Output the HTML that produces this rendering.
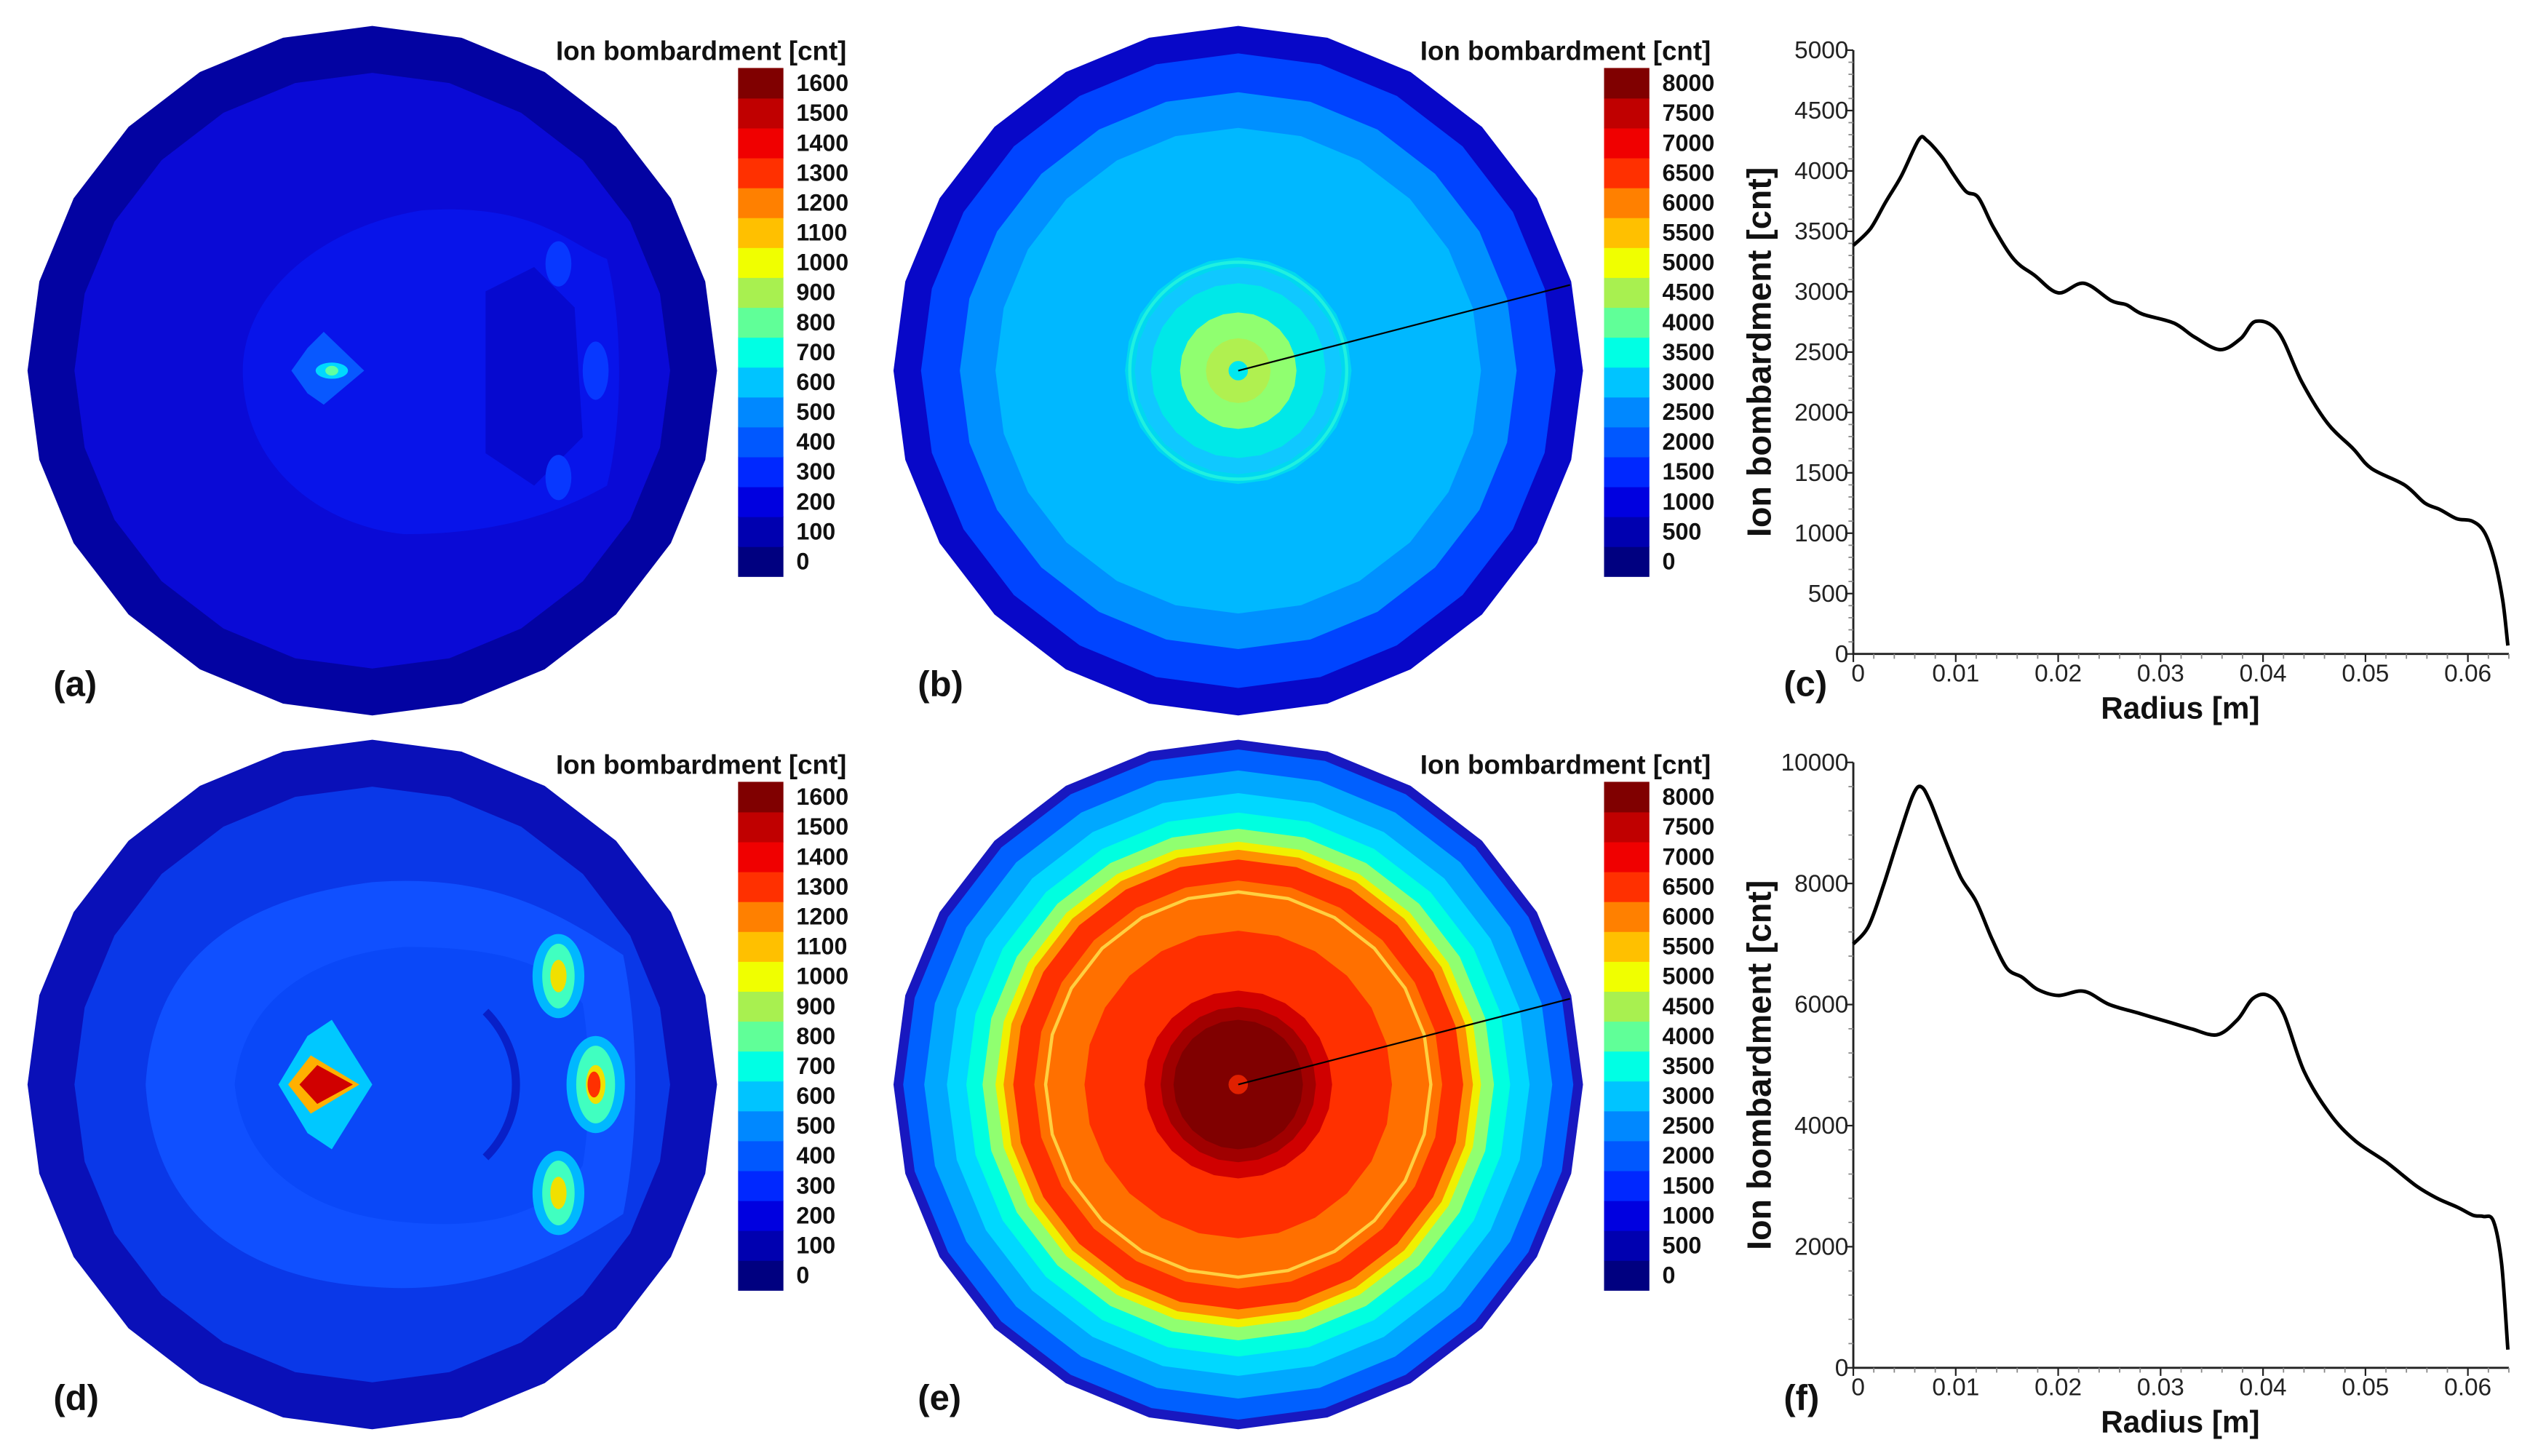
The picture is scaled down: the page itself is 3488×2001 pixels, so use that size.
<!DOCTYPE html>
<html><head><meta charset="utf-8"><style>
html,body{margin:0;padding:0;background:#fff;}
svg{display:block;}
text{font-family:"Liberation Sans",sans-serif;}
</style></head><body>
<svg id="fig" width="3488" height="2001" viewBox="0 0 1568 899.5" preserveAspectRatio="none" xmlns="http://www.w3.org/2000/svg">
<rect x="0" y="0" width="1568" height="899.5" fill="#fff"/>
<g id="root"></g>
</svg>
<script>
// ---- chart data ----
const cbLabelsA = ["0","100","200","300","400","500","600","700","800","900","1000","1100","1200","1300","1400","1500","1600"];
const cbLabelsB = ["0","500","1000","1500","2000","2500","3000","3500","4000","4500","5000","5500","6000","6500","7000","7500","8000"];
const cbColors = ["#000080","#0000b0","#0000e0","#0028ff","#0058ff","#0088ff","#00c4ff","#00ffe4","#60ff98","#a8f050","#f0ff00","#ffc000","#ff8000","#ff3000","#f00000","#c00000","#800000"];
const radiusC = [0,0.0017,0.0032,0.0047,0.0064,0.0072,0.0087,0.0097,0.011,0.0122,0.0137,0.0157,0.0177,0.02,0.0225,0.0252,0.0267,0.0282,0.0313,0.0333,0.0358,0.0378,0.0393,0.0415,0.0438,0.0463,0.0488,0.0506,0.0538,0.0558,0.0573,0.0589,0.0604,0.0616,0.0626,0.0634,0.0639];
const valuesC = [3383,3526,3750,3960,4260,4250,4110,3980,3830,3780,3530,3265,3135,2990,3070,2925,2890,2815,2740,2625,2520,2610,2755,2665,2250,1910,1700,1535,1400,1250,1195,1120,1100,1010,780,445,70];
const radiusF = [0,0.0015,0.003,0.0045,0.0058,0.0066,0.0075,0.009,0.0105,0.012,0.0135,0.015,0.0165,0.018,0.02,0.0225,0.025,0.028,0.031,0.033,0.0355,0.0375,0.039,0.0405,0.042,0.044,0.0465,0.049,0.052,0.055,0.057,0.059,0.0605,0.0615,0.0625,0.0633,0.0639];
const valuesF = [7000,7300,8000,8800,9450,9600,9350,8700,8100,7700,7100,6600,6450,6250,6150,6220,6000,5850,5700,5600,5500,5750,6100,6150,5850,4900,4200,3750,3400,3000,2800,2650,2520,2500,2420,1700,300];
const ticksXC = [0,0.01,0.02,0.03,0.04,0.05,0.06];
const ticksYC = [0,500,1000,1500,2000,2500,3000,3500,4000,4500,5000];
const ticksYF = [0,2000,4000,6000,8000,10000];

const NS="http://www.w3.org/2000/svg";
const root=document.getElementById('root');
function mk(tag,attrs,parent){const e=document.createElementNS(NS,tag);for(const k in attrs)e.setAttribute(k,attrs[k]);(parent||root).appendChild(e);return e;}
function poly(cx,cy,r,n){let p=[];for(let i=0;i<n;i++){const a=-Math.PI/2+i*2*Math.PI/n;p.push((cx+r*Math.cos(a)).toFixed(1)+","+(cy+r*Math.sin(a)).toFixed(1));}return p.join(" ");}

function colorbar(x,yTop,yBot,labels,titleRight,name){
  const g=mk('g',{});
  
  
  const n=cbColors.length,h=(yBot-yTop)/n;
  for(let i=0;i<n;i++){
    const r=mk('rect',{x:x,y:(yBot-(i+1)*h).toFixed(2),width:28,height:(h+0.4).toFixed(2),fill:cbColors[i]},g);
    
    
    const t=mk('text',{x:x+36,y:(yBot-(i+0.5)*h+5).toFixed(2),'font-size':14.5,'font-weight':'bold',fill:'#111'},g);
    t.textContent=labels[i];
    
    
  }
  const t=mk('text',{x:titleRight,y:yTop-5,'font-size':16.5,'font-weight':'bold','text-anchor':'end',fill:'#111'},g);
  t.textContent="Ion bombardment [cnt]";
  
  
  return g;
}
function label(x,y,s,name){const t=mk('text',{x:x,y:y,'font-size':22,'font-weight':'bold',fill:'#111'});t.textContent=s;}

function disk(cx,cy,rings,name){
  const g=mk('g',{});
  
  
  rings.forEach(rc=>{const p=mk('polygon',{points:poly(cx,cy,rc[0],24),fill:rc[1]},g);});
  return g;
}
// (a)
let ga=disk(230,229,[[213,"#0303a2"],[184,"#0a0ad6"]],'contour-map-a');
mk('path',{d:"M150,229 C150,180 200,140 260,130 C330,125 350,150 375,160 C385,200 385,260 375,300 C340,320 300,330 250,330 C200,325 150,290 150,229 Z",fill:"#0814ea"},ga);
mk('path',{d:"M300,180 L330,165 L355,190 L360,270 L330,300 L300,280 Z",fill:"#0606c8",opacity:0.8},ga);
[[345,163,8,14],[368,229,8,18],[345,295,8,14]].forEach(e=>mk('ellipse',{cx:e[0],cy:e[1],rx:e[2],ry:e[3],fill:"#0838ff"},ga));
mk('path',{d:"M180,229 L190,215 L200,205 L225,229 L200,250 L190,243 Z",fill:"#0858ff"},ga);
mk('ellipse',{cx:205,cy:229,rx:10,ry:5,fill:"#00d8ff"},ga);
mk('ellipse',{cx:205,cy:229,rx:4,ry:3,fill:"#60ffa0"},ga);
colorbar(456,42,356,cbLabelsA,523,'colorbar-a');
label(33,430,"(a)",'panel-label-a');

// (b)
let gb=disk(765,229,[[213,"#0808c8"],[196,"#0044ff"],[172,"#0090ff"],[150,"#00b8ff"],[70,"#00d8f0"],[64,"#10c8ff"],[54,"#00e8e8"],[36,"#90ff70"],[20,"#b0f050"],[6,"#00e8f0"]],'contour-map-b');
mk('circle',{cx:765,cy:229,r:67,fill:"none",stroke:"#20f0e0","stroke-width":2},gb);
mk('line',{x1:765,y1:229,x2:970,y2:176,stroke:"#000","stroke-width":1},gb);
colorbar(991,42,356,cbLabelsB,1057,'colorbar-b');
label(567,430,"(b)",'panel-label-b');

// (d)
let gd=disk(230,670,[[213,"#0a10b8"],[184,"#0a38e8"]],'contour-map-d');
mk('path',{d:"M90,670 C95,590 150,555 230,545 C300,540 340,560 385,590 C395,640 395,700 385,750 C340,780 290,800 230,795 C150,790 95,750 90,670 Z",fill:"#1050ff"},gd);
mk('path',{d:"M145,670 C150,620 190,590 250,585 C320,585 345,600 360,620 C365,650 365,690 360,720 C340,750 300,760 250,755 C190,750 150,720 145,670 Z",fill:"#0a48f8"},gd);
[[345,603,10,20],[368,670,12,24],[345,737,10,20]].forEach(e=>{mk('ellipse',{cx:e[0],cy:e[1],rx:e[2]+6,ry:e[3]+6,fill:"#00b8ff"},gd);mk('ellipse',{cx:e[0],cy:e[1],rx:e[2],ry:e[3],fill:"#40ffc0"},gd);mk('ellipse',{cx:e[0],cy:e[1],rx:e[2]*0.5,ry:e[3]*0.5,fill:"#f0e000"},gd);});
mk('ellipse',{cx:367,cy:670,rx:4,ry:8,fill:"#ff3000"},gd);
mk('path',{d:"M172,670 L190,640 L205,630 L230,670 L205,710 L190,700 Z",fill:"#00c8ff"},gd);
mk('path',{d:"M178,670 L192,652 L222,670 L192,688 Z",fill:"#ffb000"},gd);
mk('path',{d:"M185,670 L196,658 L218,670 L196,682 Z",fill:"#d00000"},gd);
mk('path',{d:"M300,625 C325,650 325,690 300,715",fill:"none",stroke:"#0820c8","stroke-width":5},gd);
colorbar(456,483,797,cbLabelsA,523,'colorbar-d');
label(33,871,"(d)",'panel-label-d');

// (e)
let ge=disk(765,670,[[213,"#1818c0"],[207,"#0060ff"],[194,"#00a8ff"],[180,"#00d8ff"],[168,"#00ffe0"],[158,"#90ff70"],[150,"#f0f000"],[145,"#ff9000"],[139,"#ff3000"],[126,"#ff7000"],[95,"#ff3000"],[58,"#d00000"],[48,"#a00000"],[40,"#800000"],[6,"#e02000"]],'contour-map-e');
mk('polygon',{points:poly(765,670,119,24),fill:"none",stroke:"#ffd040","stroke-width":2},ge);
mk('line',{x1:765,y1:670,x2:970,y2:617,stroke:"#000","stroke-width":1},ge);
colorbar(991,483,797,cbLabelsB,1057,'colorbar-e');
label(567,871,"(e)",'panel-label-e');

// line charts
function lineChart(xs,ys,ticksY,yMax,top,bot,name,lab,labY){
  const L=1145,xMax=0.064,R=1550;
  const sx=v=>L+v/xMax*(R-L), sy=v=>bot-v/yMax*(bot-top);
  const g=mk('g',{});
  
  
  const ax=mk('path',{d:`M${L},${top} L${L},${bot} L${R},${bot}`,fill:"none",stroke:"#222","stroke-width":1.3},g);
  
  
  ticksY.forEach((v,i)=>{
    mk('line',{x1:L-5,y1:sy(v),x2:L,y2:sy(v),stroke:"#222","stroke-width":1},g);
    if(i<ticksY.length-1){const step=(ticksY[1]-ticksY[0])/5;for(let k=1;k<5;k++)mk('line',{x1:L-3,y1:sy(v+k*step),x2:L,y2:sy(v+k*step),stroke:"#888","stroke-width":0.8},g);}
    const t=mk('text',{x:L-3,y:sy(v)+5,'font-size':15,'text-anchor':'end',fill:'#222'},g);t.textContent=String(v);
    
  });
  ticksXC.forEach((v,i)=>{
    mk('line',{x1:sx(v),y1:bot,x2:sx(v),y2:bot+5,stroke:"#222","stroke-width":1},g);
    for(let k=1;k<5;k++){const vv=v+k*0.002;if(vv<=xMax)mk('line',{x1:sx(vv),y1:bot,x2:sx(vv),y2:bot+3,stroke:"#888","stroke-width":0.8},g);}
    const t=mk('text',{x:sx(v)+(i==0?3:0),y:bot+17,'font-size':15,'text-anchor':'middle',fill:'#222'},g);t.textContent=String(v);
    
  });
  const P=xs.map((x,i)=>[sx(x),sy(ys[i])]);
  let d=`M${P[0][0].toFixed(1)},${P[0][1].toFixed(1)}`;
  for(let i=0;i<P.length-1;i++){const p0=P[Math.max(0,i-1)],p1=P[i],p2=P[i+1],p3=P[Math.min(P.length-1,i+2)];
    d+=` C${(p1[0]+(p2[0]-p0[0])/6).toFixed(1)},${(p1[1]+(p2[1]-p0[1])/6).toFixed(1)} ${(p2[0]-(p3[0]-p1[0])/6).toFixed(1)},${(p2[1]-(p3[1]-p1[1])/6).toFixed(1)} ${p2[0].toFixed(1)},${p2[1].toFixed(1)}`;}
  const ln=mk('path',{d:d,fill:"none",stroke:"#000","stroke-width":2.2},g);
  
  const xt=mk('text',{x:1347,y:bot+40,'font-size':19,'font-weight':'bold','text-anchor':'middle',fill:'#111'},g);xt.textContent="Radius [m]";
  
  const cy=(top+bot)/2;
  const yt=mk('text',{x:1094,y:cy,'font-size':21,'font-weight':'bold','text-anchor':'middle',fill:'#111',transform:`rotate(-90 1094 ${cy})`},g);yt.textContent="Ion bombardment [cnt]";
  
  label(1102,labY,lab,'panel-label-'+lab[1]);
}
lineChart(radiusC,valuesC,ticksYC,5000,31,404,'line-chart-c',"(c)",430);
lineChart(radiusF,valuesF,ticksYF,10000,471,845,'line-chart-f',"(f)",871);
</script>
</body></html>
